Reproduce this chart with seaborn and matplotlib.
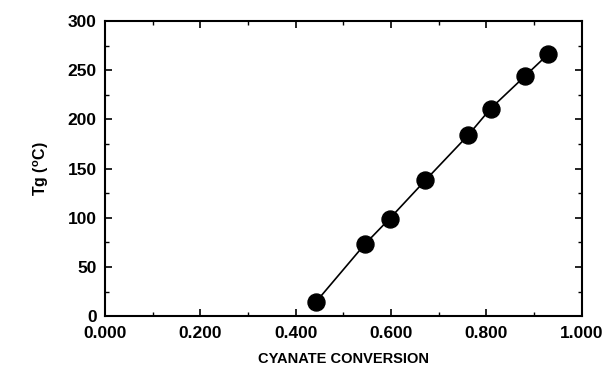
import matplotlib
matplotlib.use("Agg")
import matplotlib.pyplot as plt
import seaborn as sns
import pandas as pd
from matplotlib.ticker import MultipleLocator, FormatStrFormatter

conversion = [0.442, 0.545, 0.597, 0.672, 0.762, 0.809, 0.881, 0.929]
tg = [14, 73, 99, 138, 184, 211, 244, 266]

sns.set_style("ticks")
plt.rcParams['font.family'] = ['Liberation Sans', 'DejaVu Sans']
plt.rcParams['font.weight'] = 'bold'
plt.rcParams['text.color'] = 'black'
plt.rcParams['axes.labelcolor'] = 'black'
plt.rcParams['xtick.color'] = 'black'
plt.rcParams['ytick.color'] = 'black'

df = pd.DataFrame({"conversion": conversion, "tg": tg})

fig = plt.figure(figsize=(6.06, 3.68), dpi=100)
ax = fig.add_axes([0.173, 0.141, 0.787, 0.802])
sns.lineplot(data=df, x="conversion", y="tg", ax=ax, color="black", linewidth=1.2)
sns.scatterplot(data=df, x="conversion", y="tg", ax=ax, color="black", s=150, edgecolor="black", zorder=3)

ax.set_xlim(0, 1)
ax.set_ylim(0, 300)
ax.xaxis.set_major_locator(MultipleLocator(0.2))
ax.xaxis.set_minor_locator(MultipleLocator(0.1))
ax.yaxis.set_major_locator(MultipleLocator(50))
ax.yaxis.set_minor_locator(MultipleLocator(25))
ax.xaxis.set_major_formatter(FormatStrFormatter("%.3f"))
ax.tick_params(which="both", direction="in", top=True, right=True, color="black", labelcolor="black")
ax.tick_params(which="major", length=5, width=1.2, labelsize=12.5)
ax.tick_params(axis="x", which="major", pad=7)
ax.tick_params(axis="y", which="major", pad=6)
ax.tick_params(which="minor", length=3, width=1)
for s in ax.spines.values():
    s.set_visible(True)
    s.set_linewidth(1.5)
    s.set_color("black")
for lab in ax.get_xticklabels() + ax.get_yticklabels():
    lab.set_fontweight("bold")

ax.set_xlabel("CYANATE CONVERSION", fontsize=10.5, fontweight="bold", labelpad=8, color="black")
ax.set_ylabel("Tg ($\\mathregular{^o}$C)", fontsize=11.5, fontweight="bold", labelpad=12, color="black")

fig.savefig("out.png", dpi=100)
